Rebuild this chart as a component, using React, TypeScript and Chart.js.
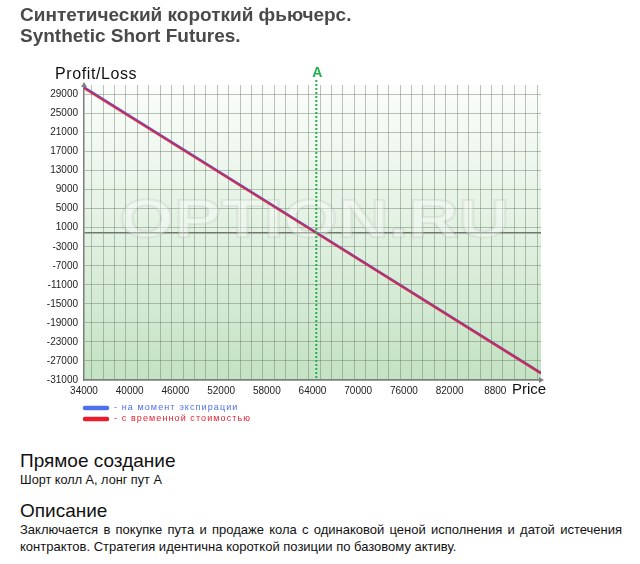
import React, { useEffect, useRef } from "react";
import { Chart, registerables } from "chart.js";

Chart.register(...registerables);

const FONT = '"Liberation Sans", Arial, sans-serif';

const titleRu = "Синтетический короткий фьючерс.";
const titleEn = "Synthetic Short Futures.";
const yAxisTitle = "Profit/Loss";
const xAxisTitle = "Price";
const strikeLabel = "A";
const strikeA = 64500;

const prices = [34000, 64500, 94000];
const expirationPL = [30500, 0, -29500];
const timeValuePL = [30350, -100, -29600];
const seriesNames = ["- на момент экспирации", "- с временной стоимостью"];

const xTickValues = [34000, 40000, 46000, 52000, 58000, 64000, 70000, 76000, 82000, 88000];
const xTickLabels = ["34000", "40000", "46000", "52000", "58000", "64000", "70000", "76000", "82000", "8800"];
const yTickValues = [-31000, -27000, -23000, -19000, -15000, -11000, -7000, -3000, 1000, 5000, 9000, 13000, 17000, 21000, 25000, 29000];

const X_MIN = 34000;
const X_MAX = 94000;
const Y_MIN = -31000;
const Y_MAX = 31000;

const gridStart = 35000;
const gridStep = 1500;
const xGridValues: number[] = [];
for (let v = gridStart; v < X_MAX; v += gridStep) xGridValues.push(v);

const heading1 = "Прямое создание";
const text1 = "Шорт колл А, лонг пут А";
const heading2 = "Описание";
const text2 =
  "Заключается в покупке пута и продаже кола с одинаковой ценой исполнения и датой истечения контрактов. Стратегия идентична короткой позиции по базовому активу.";

const BLUE = "#4f6ff0";
const RED = "#e81c2c";

const decorPlugin = {
  id: "decor",
  beforeDraw(chart: any) {
    const { ctx, chartArea: a } = chart;
    const g = ctx.createLinearGradient(0, a.top, 0, a.bottom);
    g.addColorStop(0, "#fbfdfb");
    g.addColorStop(0.5, "#e2f1e2");
    g.addColorStop(1, "#c3e2c3");
    ctx.save();
    ctx.fillStyle = g;
    ctx.fillRect(a.left, a.top, a.right - a.left, a.bottom - a.top);
    ctx.restore();
  },
  beforeDatasetsDraw(chart: any) {
    const { ctx, chartArea: a } = chart;
    ctx.save();
    ctx.font = `bold 54px ${FONT}`;
    const text = "OPTION.RU";
    const w = ctx.measureText(text).width;
    const cx = (a.left + a.right) / 2 + 2;
    const cy = 222;
    ctx.translate(cx, cy);
    ctx.scale(390 / w, 1);
    ctx.textAlign = "center";
    ctx.textBaseline = "middle";
    ctx.fillStyle = "rgba(255,255,255,0.35)";
    ctx.fillText(text, 0, 0);
    ctx.lineWidth = 2;
    ctx.strokeStyle = "rgba(150,160,150,0.16)";
    ctx.strokeText(text, 0, 0);
    ctx.restore();
  },
  afterDraw(chart: any) {
    const { ctx, chartArea: a, scales } = chart;
    ctx.save();
    // strike line A
    const xA = scales.x.getPixelForValue(strikeA);
    ctx.strokeStyle = "#22b24c";
    ctx.lineWidth = 2;
    ctx.setLineDash([2, 2]);
    ctx.beginPath();
    ctx.moveTo(xA, 80);
    ctx.lineTo(xA, a.bottom);
    ctx.stroke();
    ctx.setLineDash([]);
    ctx.fillStyle = "#22b24c";
    ctx.font = `bold 14px ${FONT}`;
    ctx.textAlign = "center";
    ctx.textBaseline = "middle";
    ctx.fillText(strikeLabel, xA + 1, 73);

    // arrows
    ctx.fillStyle = "#808080";
    ctx.beginPath();
    ctx.moveTo(a.left, a.top - 3);
    ctx.lineTo(a.left - 3, a.top + 2);
    ctx.lineTo(a.left + 3, a.top + 2);
    ctx.closePath();
    ctx.fill();
    ctx.beginPath();
    ctx.moveTo(a.right + 3, a.bottom);
    ctx.lineTo(a.right - 2, a.bottom - 3);
    ctx.lineTo(a.right - 2, a.bottom + 3);
    ctx.closePath();
    ctx.fill();

    // axis titles
    ctx.fillStyle = "#111";
    ctx.font = `16px ${FONT}`;
    (ctx as any).letterSpacing = "0.6px";
    ctx.textAlign = "left";
    ctx.fillText(yAxisTitle, 55, 75);
    (ctx as any).letterSpacing = "0px";
    ctx.font = `15px ${FONT}`;
    ctx.fillText(xAxisTitle, 512, 390);

    // legend
    const rows = [
      { y: 408, color: BLUE, text: seriesNames[0] },
      { y: 419, color: RED, text: seriesNames[1] },
    ];
    ctx.font = `9px ${FONT}`;
    (ctx as any).letterSpacing = "1.1px";
    for (const r of rows) {
      ctx.strokeStyle = r.color;
      ctx.lineWidth = 4.5;
      ctx.lineCap = "round";
      ctx.beginPath();
      ctx.moveTo(85, r.y);
      ctx.lineTo(107, r.y);
      ctx.stroke();
      ctx.fillStyle = r.color;
      ctx.textAlign = "left";
      ctx.textBaseline = "middle";
      ctx.fillText(r.text, 114, r.y);
    }
    ctx.restore();
  },
};

function ChartBox() {
  const ref = useRef<HTMLCanvasElement | null>(null);
  useEffect(() => {
    if (!ref.current) return;
    const chart = new Chart(ref.current, {
      type: "line",
      data: {
        datasets: [
          {
            label: seriesNames[0],
            data: prices.map((p, i) => ({ x: p, y: expirationPL[i] })),
            borderColor: BLUE,
            borderWidth: 2.5,
            pointRadius: 0,
            tension: 0,
            order: 2,
          },
          {
            label: seriesNames[1],
            data: prices.map((p, i) => ({ x: p, y: timeValuePL[i] })),
            borderColor: "rgba(228,22,42,0.72)",
            borderWidth: 2.5,
            pointRadius: 0,
            tension: 0,
            order: 1,
          },
        ],
      },
      options: {
        animation: false,
        responsive: false,
        events: [],
        layout: { padding: { left: 0, top: 85, right: 99, bottom: 0 } },
        plugins: { legend: { display: false }, tooltip: { enabled: false }, title: { display: false } },
        scales: {
          xg: {
            type: "linear",
            position: "top",
            min: X_MIN,
            max: X_MAX,
            afterBuildTicks: (s: any) => {
              s.ticks = xGridValues.map((v) => ({ value: v }));
            },
            afterFit: (s: any) => {
              s.height = 0;
            },
            ticks: { display: false },
            border: { display: false },
            grid: { color: "rgba(105,125,105,0.45)", lineWidth: 1, drawTicks: false, tickLength: 0 },
          },
          x: {
            type: "linear",
            position: "bottom",
            min: X_MIN,
            max: X_MAX,
            afterBuildTicks: (s: any) => {
              s.ticks = xTickValues.map((v) => ({ value: v }));
            },
            afterFit: (s: any) => {
              s.height = 50;
            },
            ticks: {
              autoSkip: false,
              maxRotation: 0,
              padding: 5,
              color: "#222",
              font: { family: FONT, size: 10 },
              callback: (_v: any, i: number) => xTickLabels[i],
            },
            border: { color: "#7d7d7d", width: 1.5 },
            grid: { drawOnChartArea: false, drawTicks: false, tickLength: 0 },
          },
          y: {
            type: "linear",
            min: Y_MIN,
            max: Y_MAX,
            afterBuildTicks: (s: any) => {
              s.ticks = [...yTickValues, 0].map((v) => ({ value: v }));
            },
            afterFit: (s: any) => {
              s.width = 84;
            },
            ticks: {
              padding: 6,
              color: "#222",
              font: { family: FONT, size: 10 },
              callback: (v: any) => (v === 0 ? "" : String(v)),
            },
            border: { color: "#7d7d7d", width: 1.5 },
            grid: {
              drawTicks: false,
              tickLength: 0,
              color: (c: any) => (c.tick && c.tick.value === 0 ? "#6e786e" : "rgba(105,125,105,0.45)"),
              lineWidth: (c: any) => (c.tick && c.tick.value === 0 ? 1.5 : 1),
            },
          },
        },
      },
      plugins: [decorPlugin],
    } as any);
    return () => chart.destroy();
  }, []);
  return (
    <canvas
      ref={ref}
      width={640}
      height={430}
      style={{ position: "absolute", left: 0, top: 0, width: 640, height: 430 }}
    />
  );
}

export default function App() {
  return (
    <div
      style={{
        position: "absolute",
        left: 0,
        top: 0,
        width: 640,
        height: 564,
        background: "#fff",
        fontFamily: FONT,
        overflow: "hidden",
      }}
    >
      <ChartBox />
      <div
        style={{
          position: "absolute",
          left: 20,
          top: 4,
          fontWeight: "bold",
          fontSize: 19,
          lineHeight: "21px",
          color: "#4a4a4a",
          whiteSpace: "nowrap",
        }}
      >
        <div>{titleRu}</div>
        <div>{titleEn}</div>
      </div>
      <div style={{ position: "absolute", left: 20, top: 450, fontSize: 19, lineHeight: "22px", color: "#111" }}>
        {heading1}
      </div>
      <div style={{ position: "absolute", left: 20, top: 472, fontSize: 12.7, lineHeight: "16px", color: "#111" }}>
        {text1}
      </div>
      <div style={{ position: "absolute", left: 20, top: 500, fontSize: 19, lineHeight: "22px", color: "#111" }}>
        {heading2}
      </div>
      <div
        style={{
          position: "absolute",
          left: 20,
          top: 521,
          width: 602,
          fontSize: 13,
          lineHeight: "17px",
          color: "#111",
          textAlign: "justify",
        }}
      >
        {text2}
      </div>
    </div>
  );
}
